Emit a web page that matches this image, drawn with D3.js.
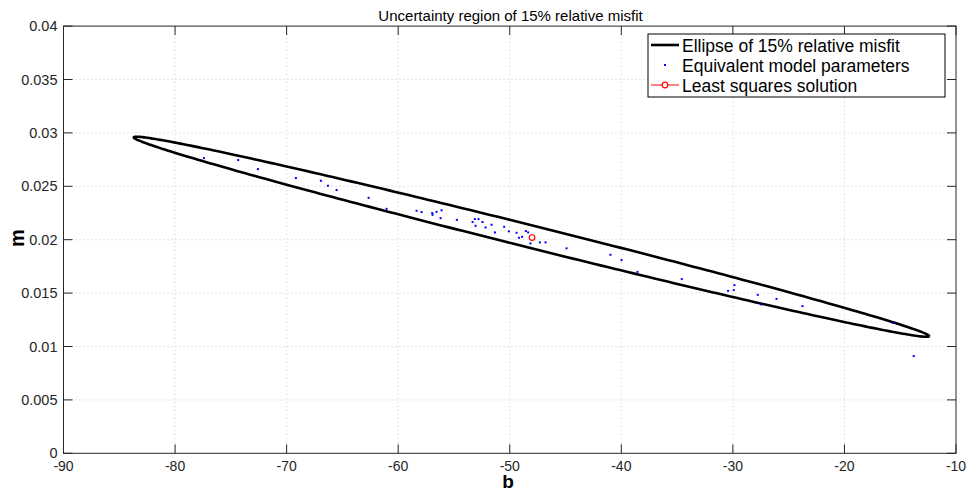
<!DOCTYPE html>
<html><head><meta charset="utf-8">
<script src="https://cdn.jsdelivr.net/npm/d3@7"></script>
<style>body{margin:0;background:#fff}svg{display:block;font-family:"Liberation Sans",Arial,sans-serif}</style>
</head><body><svg id="c" width="968" height="491"></svg>
<script>
const title = "Uncertainty region of 15% relative misfit";
const xTicks = [-90,-80,-70,-60,-50,-40,-30,-20,-10];
const yTicks = [0,0.005,0.01,0.015,0.02,0.025,0.03,0.035,0.04];
const yTickLabels = ["0","0.005","0.01","0.015","0.02","0.025","0.03","0.035","0.04"];
// ellipse: tips of major axis and vertical half-width at centre
const ellipseLeftTip = [-83.7, 0.02958];
const ellipseRightTip = [-12.4, 0.01097];
const ellipseHalfWidthM = 0.00108;
const pointsB = [-77.41,-74.34,-72.57,-69.17,-66.93,-66.30,-65.52,-62.65,-61.04,-58.35,-57.90,-56.95,-56.92,-56.56,-56.11,-56.20,-54.74,-53.33,-53.13,-52.80,-53.06,-52.44,-52.17,-51.63,-51.33,-50.50,-50.08,-49.39,-49.18,-48.89,-48.56,-48.35,-48.14,-47.30,-46.79,-44.91,-40.97,-39.98,-38.55,-34.58,-30.43,-29.92,-29.86,-27.77,-27.47,-26.09,-23.76,-15.64,-13.79];
const pointsM = [0.02764,0.02746,0.02661,0.02577,0.02552,0.02505,0.02465,0.02392,0.02289,0.02271,0.02259,0.02249,0.02233,0.02261,0.02275,0.02202,0.02186,0.02165,0.02193,0.02193,0.02130,0.02165,0.02115,0.02140,0.02068,0.02121,0.02078,0.02065,0.02018,0.02027,0.02081,0.02068,0.01965,0.01975,0.01975,0.01919,0.01859,0.01809,0.01699,0.01631,0.01521,0.01528,0.01575,0.01484,0.01394,0.01446,0.01378,0.01222,0.00910];
const lsqB = -48.0, lsqM = 0.0202;
const legendLabels = ["Ellipse of 15% relative misfit","Equivalent model parameters","Least squares solution"];

const svg = d3.select("#c");
const L=63.5, R=956, T=26.1, B=453.3;
const x = d3.scaleLinear().domain([-90,-10]).range([L,R]);
const y = d3.scaleLinear().domain([0,0.04]).range([B,T]);

// grid
const g = svg.append("g");
g.selectAll(".gx").data(xTicks.slice(1,-1)).enter().append("line")
 .attr("x1",d=>x(d)).attr("x2",d=>x(d)).attr("y1",T).attr("y2",B)
 .attr("stroke","#c8c8c8").attr("stroke-dasharray","1,3").attr("stroke-width",1);
g.selectAll(".gy").data(yTicks.slice(1,-1)).enter().append("line")
 .attr("y1",d=>y(d)).attr("y2",d=>y(d)).attr("x1",L).attr("x2",R)
 .attr("stroke","#c8c8c8").attr("stroke-dasharray","1,3").attr("stroke-width",1);

// ellipse
const c = [(ellipseLeftTip[0]+ellipseRightTip[0])/2,(ellipseLeftTip[1]+ellipseRightTip[1])/2];
const u = [ellipseRightTip[0]-c[0], ellipseRightTip[1]-c[1]];
const ell = d3.range(0,361).map(a=>{const t=a*Math.PI/180;return [c[0]+u[0]*Math.cos(t), c[1]+u[1]*Math.cos(t)+ellipseHalfWidthM*Math.sin(t)];});
svg.append("path").datum(ell).attr("d",d3.line().x(d=>x(d[0])).y(d=>y(d[1])))
 .attr("fill","none").attr("stroke","#000").attr("stroke-width",2.6);

// points
svg.append("g").selectAll("rect").data(pointsB.map((b,i)=>[b,pointsM[i]])).enter().append("rect")
 .attr("x",d=>x(d[0])-1).attr("y",d=>y(d[1])-1).attr("width",2).attr("height",2).attr("fill","#0000ff");

// lsq
svg.append("circle").attr("cx",x(lsqB)).attr("cy",y(lsqM)).attr("r",2.8)
 .attr("fill","none").attr("stroke","#ff0000").attr("stroke-width",1.2);

// box and ticks
svg.append("rect").attr("x",L).attr("y",T).attr("width",R-L).attr("height",B-T)
 .attr("fill","none").attr("stroke","#262626").attr("stroke-width",1);
const tk=9;
const ax = svg.append("g").attr("stroke","#262626").attr("stroke-width",1);
xTicks.forEach(d=>{ax.append("line").attr("x1",x(d)).attr("x2",x(d)).attr("y1",B).attr("y2",B-tk);
 ax.append("line").attr("x1",x(d)).attr("x2",x(d)).attr("y1",T).attr("y2",T+tk);});
yTicks.forEach(d=>{ax.append("line").attr("y1",y(d)).attr("y2",y(d)).attr("x1",L).attr("x2",L+tk);
 ax.append("line").attr("y1",y(d)).attr("y2",y(d)).attr("x1",R).attr("x2",R-tk);});

// tick labels
svg.append("g").selectAll("text").data(xTicks).enter().append("text")
 .attr("x",d=>x(d)).attr("y",B+17.5).attr("text-anchor","middle").attr("font-size",14).attr("fill","#262626")
 .text(d=>d);
svg.append("g").selectAll("text").data(yTicks).enter().append("text")
 .attr("x",L-6).attr("y",d=>y(d)+5).attr("text-anchor","end").attr("font-size",14.5).attr("fill","#262626")
 .text((d,i)=>yTickLabels[i]);

// axis labels
svg.append("text").attr("x",508).attr("y",487.5).attr("text-anchor","middle").attr("font-size",19).attr("font-weight","bold").text("b");
svg.append("text").attr("transform","translate(23.5,238) rotate(-90)").attr("text-anchor","middle").attr("font-size",20).attr("font-weight","bold").text("m");
svg.append("text").attr("x",510.5).attr("y",20.5).attr("text-anchor","middle").attr("font-size",15).text(title);

// legend
const lg = svg.append("g");
lg.append("rect").attr("x",648).attr("y",34).attr("width",297).attr("height",63).attr("fill","#fff").attr("stroke","#000").attr("stroke-width",1);
const rows=[45,65,85];
lg.append("line").attr("x1",651).attr("x2",679).attr("y1",rows[0]).attr("y2",rows[0]).attr("stroke","#000").attr("stroke-width",2.6);
lg.append("rect").attr("x",664).attr("y",rows[1]-1).attr("width",2).attr("height",2).attr("fill","#0000ff");
lg.append("line").attr("x1",651).attr("x2",679).attr("y1",rows[2]).attr("y2",rows[2]).attr("stroke","#ff0000").attr("stroke-width",1);
lg.append("circle").attr("cx",665).attr("cy",rows[2]).attr("r",2.8).attr("fill","#fff").attr("stroke","#ff0000").attr("stroke-width",1.2);
lg.selectAll("text.l").data(legendLabels).enter().append("text")
 .attr("x",682).attr("y",(d,i)=>rows[i]+6.5).attr("font-size",17.5).text(d=>d);
</script></body></html>
